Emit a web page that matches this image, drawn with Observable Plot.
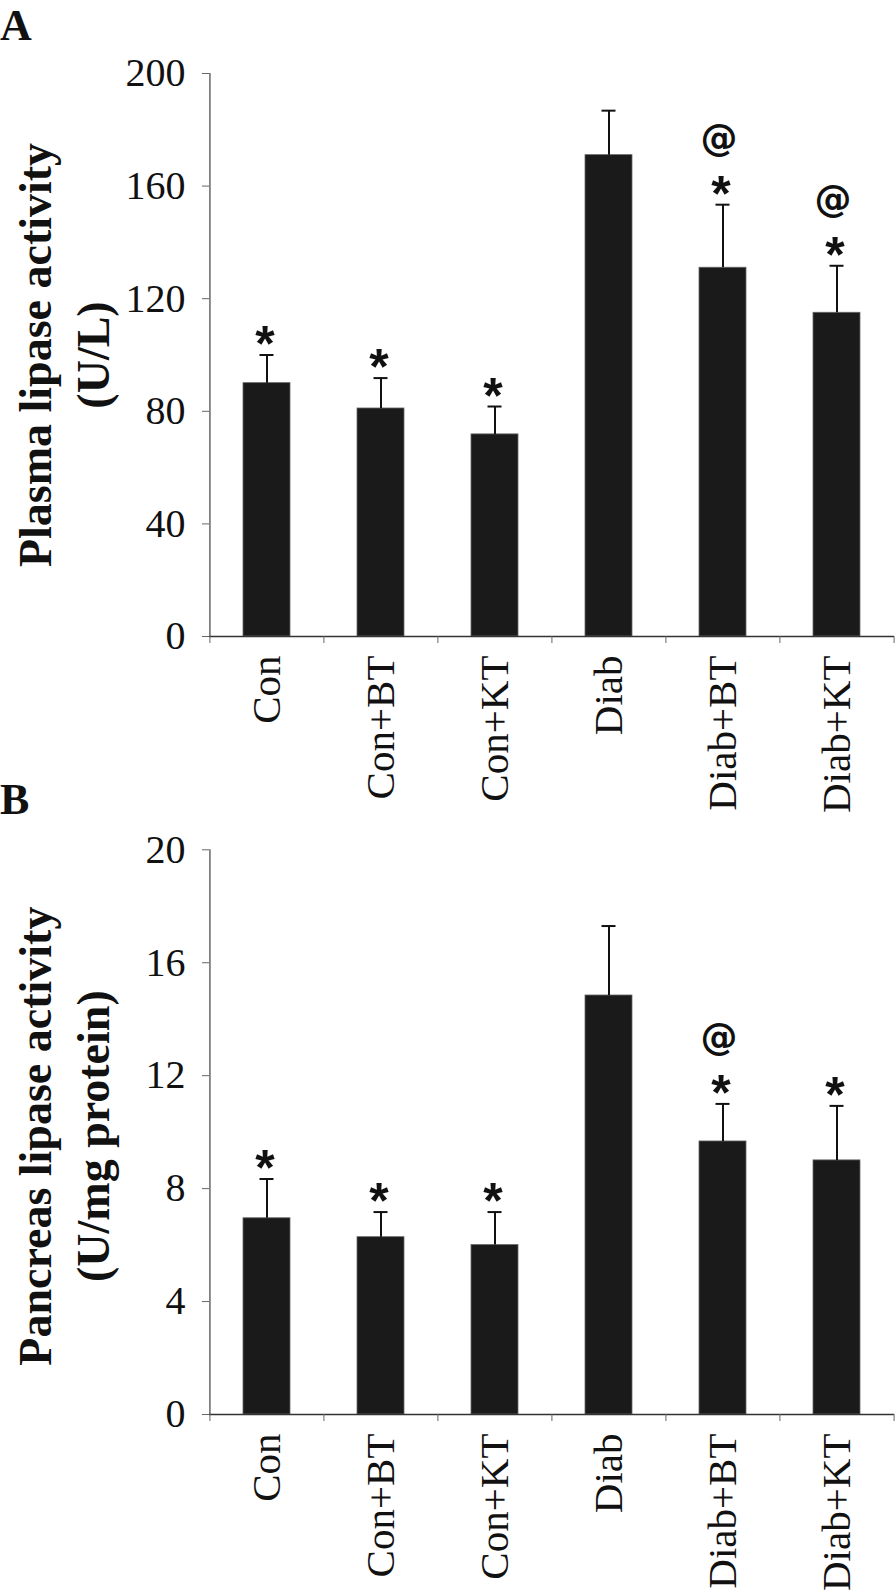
<!DOCTYPE html>
<html><head><meta charset="utf-8">
<script src="https://cdn.jsdelivr.net/npm/d3@7"></script>
<script src="https://cdn.jsdelivr.net/npm/@observablehq/plot@0.6"></script>
<style>
body{margin:0;background:#fff;}
#wrap{position:relative;width:895px;height:1592px;overflow:hidden;}
.letter{position:absolute;left:0;font:bold 44px "Liberation Serif",serif;line-height:normal;color:#111;}
#wrap svg{display:block}
</style></head><body>
<div id="wrap">
<div id="a"></div><div id="b"></div>
<div class="letter" style="top:0px">A</div>
<div class="letter" style="top:774px">B</div>
</div>
<script>
const groups = ["Con", "Con+BT", "Con+KT", "Diab", "Diab+BT", "Diab+KT"];

const plasmaMean = [90, 81, 71.8, 171, 131, 115];
const plasmaSem = [10, 10.8, 9.9, 15.8, 22.4, 16.7];
const plasmaStar = ["*", "*", "*", "", "*", "*"];
const plasmaAt = ["", "", "", "", "@", "@"];
const plasmaTicks = [0, 40, 80, 120, 160, 200];
const plasmaTitle = "Plasma lipase activity\n(U/L)";

const pancMean = [6.95, 6.28, 6.0, 14.84, 9.67, 9.0];
const pancSem = [1.39, 0.89, 1.17, 2.46, 1.33, 1.93];
const pancStar = ["*", "*", "*", "", "*", "*"];
const pancAt = ["", "", "", "", "@", ""];
const pancTicks = [0, 4, 8, 12, 16, 20];
const pancTitle = "Pancreas lipase activity\n(U/mg protein)";

function panel({mean, sem, star, at, ticks, title, height, marginTop, marginBottom, titleDy}) {
  const data = groups.map((g, i) => ({g, mean: mean[i], top: mean[i] + sem[i], star: star[i], at: at[i]}));
  const width = 895, ml = 209, mr = 1;
  const step = (width - ml - mr) / groups.length;
  const serif = '"Liberation Serif", "Times New Roman", serif';
  const sans = '"Liberation Sans", Arial, sans-serif';
  return Plot.plot({
    width, height, marginLeft: ml, marginRight: mr, marginTop, marginBottom,
    style: {fontFamily: serif, background: "#fff", color: "#111", overflow: "visible"},
    x: {domain: groups, paddingInner: 0.59, paddingOuter: 0.295, label: null},
    y: {domain: [ticks[0], ticks[ticks.length - 1]], label: null},
    marks: [
      Plot.barY(data, {x: "g", y: "mean", fill: "#1a1a1a", stroke: "#666", strokeWidth: 0.8}),
      Plot.ruleX(data, {x: "g", y1: "mean", y2: "top", stroke: "#111", strokeWidth: 2}),
      Plot.tickY(data, {x: "g", y: "top", stroke: "#111", strokeWidth: 2, insetLeft: 16.5, insetRight: 16.5}),
      Plot.text(data, {x: "g", y: "top", text: "star", dy: -10, dx: -2, fontFamily: sans, fontWeight: "bold", fontSize: 50, lineAnchor: "middle", fill: "#111"}),
      Plot.text(data, {x: "g", y: "top", text: "at", dy: -67, dx: -4, fontFamily: '"DejaVu Sans", sans-serif', fontWeight: "bold", fontSize: 37, lineAnchor: "middle", fill: "#111"}),
      Plot.ruleX([groups[0]], {dx: -step / 2, stroke: "#666", strokeWidth: 1.5}),
      Plot.ruleY([ticks[0]], {stroke: "#333", strokeWidth: 1.5}),
      Plot.axisY({ticks, tickSize: 7, tickPadding: 17, fontSize: 40, stroke: "#666", fill: "#111", label: null}),
      Plot.axisX(groups, {tickSize: 7, tickFormat: () => "", dx: -step / 2, stroke: "#666", label: null}),
      Plot.axisX([groups[groups.length - 1]], {tickSize: 7, tickFormat: () => "", dx: step / 2, stroke: "#666", label: null}),
      Plot.axisX({tickSize: 0, tickPadding: 19, tickRotate: -90, fontSize: 41, fill: "#111", label: null}),
      Plot.text([title], {text: d => d, frameAnchor: "left", rotate: -90, dx: -199, dy: titleDy, lineAnchor: "top", lineHeight: 1.25, textAnchor: "middle", fontSize: 46, fontWeight: "bold", fill: "#111"})
    ]
  });
}

document.getElementById("a").append(panel({
  mean: plasmaMean, sem: plasmaSem, star: plasmaStar, at: plasmaAt, ticks: plasmaTicks, title: plasmaTitle,
  height: 780, marginTop: 73, marginBottom: 144, titleDy: 0
}));
document.getElementById("b").append(panel({
  mean: pancMean, sem: pancSem, star: pancStar, at: pancAt, ticks: pancTicks, title: pancTitle,
  height: 812, marginTop: 69.3, marginBottom: 178, titleDy: 4
}));
</script>
</body></html>
